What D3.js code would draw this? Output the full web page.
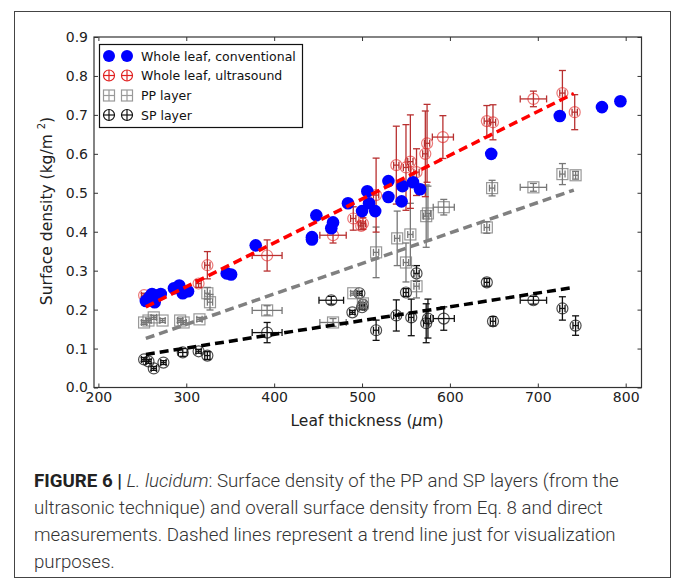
<!DOCTYPE html>
<html><head><meta charset="utf-8">
<script src="https://cdn.jsdelivr.net/npm/d3@7"></script>
<style>body{margin:0;background:#fff} svg text{font-family:"DejaVu Sans",sans-serif}</style>
</head><body><svg id="c" width="673" height="583"></svg>
<script>
// ---- data ----
const xTicks = [200, 300, 400, 500, 600, 700, 800];
const yTicks = [0.0, 0.1, 0.2, 0.3, 0.4, 0.5, 0.6, 0.7, 0.8, 0.9];

const blueX = [254,258,261,264,268,271,286,292,296,302,346,351,379,443,443,448,465,467,484,500,506,508,515,530,530,545,546,558,566,647,725,773,794];
const blueY = [0.222,0.232,0.24,0.219,0.237,0.24,0.255,0.262,0.242,0.247,0.293,0.29,0.365,0.386,0.38,0.442,0.409,0.424,0.473,0.453,0.504,0.473,0.453,0.530,0.489,0.478,0.517,0.527,0.509,0.600,0.697,0.720,0.735];

const redX = [252,314,324,392,467,490,501,499,516,539,550,555,562,572,574,592,642,649,695,728,742];
const redY = [0.237,0.267,0.314,0.339,0.391,0.434,0.421,0.415,0.494,0.571,0.565,0.58,0.553,0.60,0.627,0.643,0.684,0.681,0.741,0.756,0.707];
const redYerr = [0.005,0.01,0.035,0.04,0.02,0.03,0.015,0.01,0.095,0.1,0.11,0.12,0.06,0.11,0.1,0.055,0.04,0.045,0.02,0.058,0.045];
const redXerr = [3,3,3,17,15,3,3,3,3,3,3,3,3,3,3,12,3,3,15,3,3];

const ppX = [252,257,263,273,293,297,315,324,327,392,467,490,501,516,540,550,555,562,573,575,593,642,648,695,728,743];
const ppY = [0.167,0.172,0.18,0.172,0.172,0.167,0.175,0.242,0.219,0.198,0.167,0.242,0.216,0.347,0.383,0.321,0.393,0.26,0.44,0.447,0.463,0.411,0.512,0.514,0.548,0.545];
const ppYerr = [0.005,0.005,0.005,0.005,0.005,0.005,0.005,0.015,0.02,0.012,0.01,0.005,0.01,0.065,0.07,0.05,0.08,0.03,0.08,0.07,0.02,0.015,0.02,0.01,0.027,0.01];
const ppXerr = [3,3,3,3,3,3,3,3,3,17,15,3,3,3,3,3,3,3,3,3,12,3,3,15,3,3];

const spX = [252,257,263,274,296,314,324,392,465,489,497,500,501,516,539,550,556,562,573,575,593,642,649,695,728,743];
const spY = [0.072,0.067,0.049,0.064,0.09,0.093,0.082,0.141,0.224,0.193,0.242,0.206,0.212,0.147,0.185,0.244,0.18,0.293,0.165,0.177,0.177,0.27,0.17,0.224,0.203,0.159];
const spYerr = [0.005,0.005,0.005,0.005,0.01,0.005,0.01,0.026,0.01,0.005,0.005,0.005,0.005,0.026,0.04,0.01,0.047,0.02,0.05,0.05,0.03,0.01,0.012,0.01,0.03,0.025];
const spXerr = [3,3,3,3,5,3,3,17,14,3,3,3,3,3,3,3,3,3,3,3,12,3,3,15,3,3];

const trendX = [254, 741];
const trendRed = [0.207, 0.755];
const trendPP = [0.126, 0.507];
const trendSP = [0.085, 0.257];

const legendLabels = ["Whole leaf, conventional", "Whole leaf, ultrasound", "PP layer", "SP layer"];

// ---- drawing ----
const svg = d3.select('#c');
svg.append('rect').attr('x', 14.5).attr('y', 11.5).attr('width', 656).attr('height', 566)
  .attr('fill', 'none').attr('stroke', '#444').attr('stroke-width', 1);

const x = d3.scaleLinear().domain([195, 818]).range([94, 641.5]);
const y = d3.scaleLinear().domain([0, 0.9]).range([387.5, 37]);

const gAx = svg.append('g');
gAx.append('g').attr('transform', 'translate(0,387.5)')
  .call(d3.axisBottom(x).tickValues(xTicks).tickSizeInner(-4).tickSizeOuter(0).tickPadding(5).tickFormat(d3.format('d')));
gAx.append('g').attr('transform', 'translate(0,37)')
  .call(d3.axisTop(x).tickValues(xTicks).tickSizeInner(-4).tickSizeOuter(0).tickFormat(''));
gAx.append('g').attr('transform', 'translate(94,0)')
  .call(d3.axisLeft(y).tickValues(yTicks).tickSizeInner(-4).tickSizeOuter(0).tickPadding(6).tickFormat(d3.format('.1f')));
gAx.append('g').attr('transform', 'translate(641.5,0)')
  .call(d3.axisRight(y).tickValues(yTicks).tickSizeInner(-4).tickSizeOuter(0).tickFormat(''));
gAx.selectAll('.domain').remove();
gAx.selectAll('.tick line').attr('stroke', '#333');
gAx.selectAll('.tick text').attr('font-size', 14).attr('fill', '#222').attr('font-family', 'DejaVu Sans');

svg.append('rect').attr('x', 94).attr('y', 37).attr('width', 547.5).attr('height', 350.5)
  .attr('fill', 'none').attr('stroke', '#333').attr('stroke-width', 1.2);

// axis labels
const xl = svg.append('text').attr('x', 367).attr('y', 426).attr('text-anchor', 'middle')
  .attr('font-size', 15.5).attr('fill', '#222');
xl.append('tspan').text('Leaf thickness (');
xl.append('tspan').attr('font-style', 'italic').text('μ');
xl.append('tspan').text('m)');

const yl = svg.append('text').attr('transform', 'translate(52,211) rotate(-90)').attr('text-anchor', 'middle')
  .attr('font-size', 15.5).attr('fill', '#222');
yl.append('tspan').text('Surface density (kg/m ');
yl.append('tspan').attr('font-size', 10).attr('dy', -7).text('2');
yl.append('tspan').attr('dy', 7).text(')');

// trend lines
const line = d3.line().x(d => x(d[0])).y(d => y(d[1]));
function trend(vals, color) {
  svg.append('path').datum(trendX.map((t, i) => [t, vals[i]]))
    .attr('d', line).attr('fill', 'none').attr('stroke', color)
    .attr('stroke-width', 3.5).attr('stroke-dasharray', '9,5');
}

// markers
function errSeries(X, Y, XE, YE, color, barColor, shape, opacity) {
  const g = svg.append('g');
  X.forEach((xv, i) => {
    const cx = x(xv), cy = y(Y[i]);
    const y0 = y(Y[i] - YE[i]), y1 = y(Y[i] + YE[i]);
    const x0 = x(xv - XE[i]), x1 = x(xv + XE[i]);
    const gg = g.append('g');
    gg.append('line').attr('x1', cx).attr('x2', cx).attr('y1', y0).attr('y2', y1)
      .attr('stroke', barColor).attr('stroke-width', 1.3);
    gg.append('line').attr('x1', x0).attr('x2', x1).attr('y1', cy).attr('y2', cy)
      .attr('stroke', barColor).attr('stroke-width', 1.3);
    [y0, y1].forEach(yy => gg.append('line').attr('x1', cx - 3.5).attr('x2', cx + 3.5).attr('y1', yy).attr('y2', yy)
      .attr('stroke', barColor).attr('stroke-width', 1.3));
    [x0, x1].forEach(xx => gg.append('line').attr('x1', xx).attr('x2', xx).attr('y1', cy - 3.5).attr('y2', cy + 3.5)
      .attr('stroke', barColor).attr('stroke-width', 1.3));
    if (shape === 'circle') {
      gg.append('circle').attr('cx', cx).attr('cy', cy).attr('r', 5.5)
        .attr('fill', 'none').attr('stroke', color).attr('stroke-width', 1.2).attr('stroke-opacity', opacity);
    } else {
      gg.append('rect').attr('x', cx - 5.5).attr('y', cy - 5.5).attr('width', 11).attr('height', 11)
        .attr('fill', 'none').attr('stroke', color).attr('stroke-width', 1.2).attr('stroke-opacity', opacity);
    }
  });
}

errSeries(spX, spY, spXerr, spYerr, '#111', '#111', 'circle', 0.75);
errSeries(ppX, ppY, ppXerr, ppYerr, '#777', '#777', 'rect', 0.75);
trend(trendSP, '#000');
trend(trendPP, '#808080');
errSeries(redX, redY, redXerr, redYerr, '#e02020', '#b83030', 'circle', 0.6);

svg.append('g').selectAll('circle').data(blueX.map((v, i) => [v, blueY[i]])).join('circle')
  .attr('cx', d => x(d[0])).attr('cy', d => y(d[1])).attr('r', 6.3).attr('fill', '#0000ff');
trend(trendRed, '#ff0000');

// legend
const lg = svg.append('g');
lg.append('rect').attr('x', 99.5).attr('y', 44.5).attr('width', 203).attr('height', 83)
  .attr('fill', '#fff').attr('stroke', '#111').attr('stroke-width', 1.2);
const rowsY = [56, 75.5, 95.5, 115];
legendLabels.forEach((lab, i) => {
  const yy = rowsY[i];
  [109, 127].forEach(mx => {
    if (i === 0) {
      lg.append('circle').attr('cx', mx).attr('cy', yy).attr('r', 6).attr('fill', '#0000ff');
    } else {
      const col = i === 1 ? '#e02020' : (i === 2 ? '#999' : '#111');
      lg.append('line').attr('x1', mx - 5.5).attr('x2', mx + 5.5).attr('y1', yy).attr('y2', yy).attr('stroke', col).attr('stroke-width', 1.2);
      lg.append('line').attr('x1', mx).attr('x2', mx).attr('y1', yy - 5.5).attr('y2', yy + 5.5).attr('stroke', col).attr('stroke-width', 1.2);
      if (i === 2) {
        lg.append('rect').attr('x', mx - 5.5).attr('y', yy - 5.5).attr('width', 11).attr('height', 11)
          .attr('fill', 'none').attr('stroke', col).attr('stroke-width', 1.2);
      } else {
        lg.append('circle').attr('cx', mx).attr('cy', yy).attr('r', 5.5)
          .attr('fill', 'none').attr('stroke', col).attr('stroke-width', 1.2);
      }
    }
  });
  lg.append('text').attr('x', 141).attr('y', yy + 4.5).attr('font-size', 12.5).attr('fill', '#111').text(lab);
});

// caption
const capLines = [
  null,
  "ultrasonic technique) and overall surface density from Eq. 8 and direct",
  "measurements. Dashed lines represent a trend line just for visualization",
  "purposes."
];
const capY = [487, 514, 541, 568];
const cap = svg.append('g').attr('font-size', 18.7).attr('fill', '#333').attr('font-weight', 300);
const l1 = cap.append('text').attr('x', 34).attr('y', capY[0]).style('font-family', 'Roboto, sans-serif');
l1.append('tspan').attr('font-weight', 'bold').attr('fill', '#222').text('FIGURE 6 |');
l1.append('tspan').text(' ');
l1.append('tspan').attr('font-style', 'italic').text('L. lucidum');
l1.append('tspan').text(': Surface density of the PP and SP layers (from the');
capLines.forEach((t, i) => {
  if (t) cap.append('text').attr('x', 34).attr('y', capY[i]).style('font-family', 'Roboto, sans-serif').text(t);
});
</script></body></html>
